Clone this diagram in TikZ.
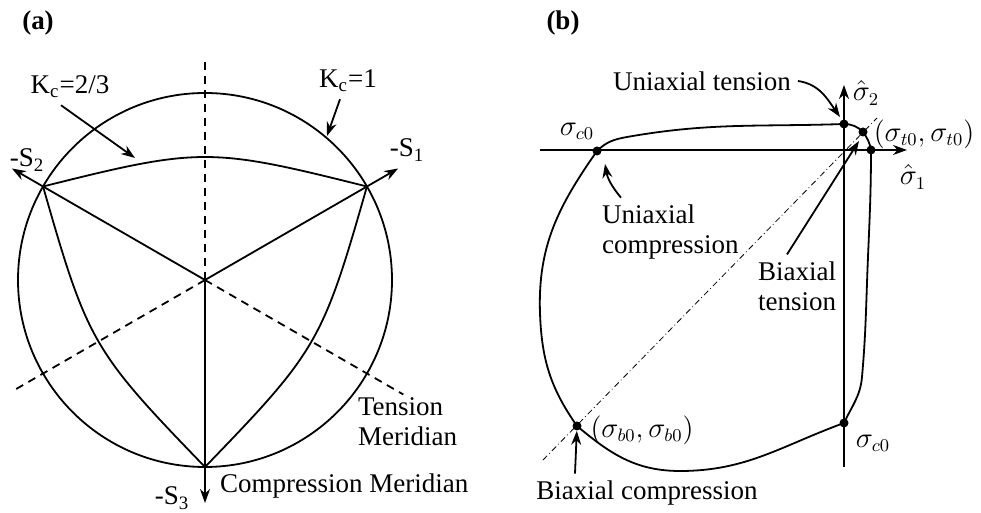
\documentclass[tikz,border=0pt]{standalone}
\usepackage{fontspec}
\setmainfont{Liberation Serif}
\usetikzlibrary{arrows.meta,positioning}

\begin{document}
\begin{tikzpicture}[
  x=0.5pt, y=0.5pt,
  font=\fontsize{13.5}{15}\selectfont,
  line/.style={line width=0.9pt},
  arrow/.style={line width=0.9pt,-{Stealth[length=7pt,width=5pt]}},
  meridian/.style={line width=0.9pt,dash pattern=on 4pt off 3pt},
  diagonal/.style={line width=0.4pt,dash pattern=on 3pt off 1.5pt on 0.4pt off 1.5pt},
  dot/.style={circle,fill,inner sep=0pt,minimum size=4.5pt},
  tag/.style={font=\fontsize{13.5}{15}\selectfont\bfseries}
]
  \useasboundingbox (0,0) rectangle (981,513);

  % (a) deviatoric plane
  \coordinate (o) at (205,233);
  \path (o) ++(30:223) coordinate (s1);
  \path (o) ++(150:223) coordinate (s2);
  \path (o) ++(270:223) coordinate (s3);
  \path (o) ++(90:223) coordinate (m1);
  \path (o) ++(210:223) coordinate (m2);
  \path (o) ++(330:229) coordinate (m3);

  \draw[line] (o) circle[radius=187];
  \foreach \m in {m1,m2,m3}
    \draw[meridian] (o) -- (\m);
  \foreach \r in {0,120,240}
    \draw[line,shift={(o)},rotate=\r]
      (150:187) .. controls (-5,132.8) and (5,132.8) .. (30:187);
  \foreach \s in {s1,s2,s3}
    \draw[arrow] (o) -- (\s);

  \node[tag] (taga) at (38,490) {(a)};
  \node (kc23) at (70,426) {K\textsubscript{c}=2/3};
  \node (kc1) at (348,432) {K\textsubscript{c}=1};
  \coordinate (kc23tip) at (135,355);
  \coordinate (kc1tip) at (327,377);
  \draw[arrow] ([xshift=-4.5pt]kc23.south) -- (kc23tip);
  \draw[arrow] ([xshift=-4pt]kc1.south) -- (kc1tip);
  \node (ls1) at (407,363) {-S\textsubscript{1}};
  \node (ls2) at (27,353) {-S\textsubscript{2}};
  \node (ls3) at (172,15) {-S\textsubscript{3}};
  \node[align=left,anchor=west] (tm) at (351,91) {Tension\\Meridian};
  \node[anchor=west] (cm) at (213,27) {Compression Meridian};

  % (b) biaxial failure surface
  \coordinate (h0) at (540,363);
  \coordinate (h1) at (907,363);
  \coordinate (v0) at (844,46);
  \coordinate (v1) at (844,428);
  \coordinate (d0) at (543,53);
  \coordinate (d1) at (877,395);
  \draw[diagonal] (d0) -- (d1);
  \draw[arrow] (h0) -- (h1);
  \draw[arrow] (v0) -- (v1);

  \node[dot] (uc) at (597,362) {};
  \node[dot] (ut) at (844,389) {};
  \node[dot] (bt) at (863,381) {};
  \node[dot] (et) at (871,363) {};
  \node[dot] (uc2) at (844,90) {};
  \node[dot] (bc) at (577,87) {};

  \draw[line] (uc.center) to[out=45,in=190] (627,376)
    to[out=10,in=182] (ut.center)
    to[out=-2,in=135] (bt.center)
    to[out=-55,in=100] (et.center)
    to[out=-90,in=88] (867,230)
    to[out=-92,in=85] (862,136)
    to[out=-95,in=65] (uc2.center)
    to[out=-160,in=0] (680,42)
    to[out=180,in=-40] (bc.center)
    to[out=125,in=-88] (540,200)
    to[out=92,in=-125] (uc.center);

  \node[tag] (tagb) at (563,490) {(b)};
  \node (sc0a) at (577,382) {$\sigma_{c0}$};
  \node (sc0b) at (873,70) {$\sigma_{c0}$};
  \node (sh1) at (913,336) {$\hat\sigma_1$};
  \node (sh2) at (866,420) {$\hat\sigma_2$};
  \node (st0) at (924,379) {$\bigl(\sigma_{t0},\sigma_{t0}\bigr)$};
  \node (sb0) at (642,83) {$\bigl(\sigma_{b0},\sigma_{b0}\bigr)$};

  \node (utl) at (702,432) {Uniaxial tension};
  \node[align=left,anchor=west] (ucl) at (595,281) {Uniaxial\\compression};
  \node[align=center] (btl) at (797,227) {Biaxial\\tension};
  \node (bcl) at (647,20) {Biaxial compression};

  \coordinate (uttip) at (840,396);
  \coordinate (uctip) at (605,349);
  \coordinate (bttip) at (859,372);
  \draw[arrow] (utl.east) to[out=-8,in=125] (uttip);
  \draw[arrow] ([xshift=13pt]ucl.north west) to[out=130,in=-80] (uctip);
  \draw[arrow] ([xshift=-5pt]btl.north) -- (bttip);
  \draw[arrow] ([xshift=-36pt]bcl.north) -- (bc);
\end{tikzpicture}
\end{document}
